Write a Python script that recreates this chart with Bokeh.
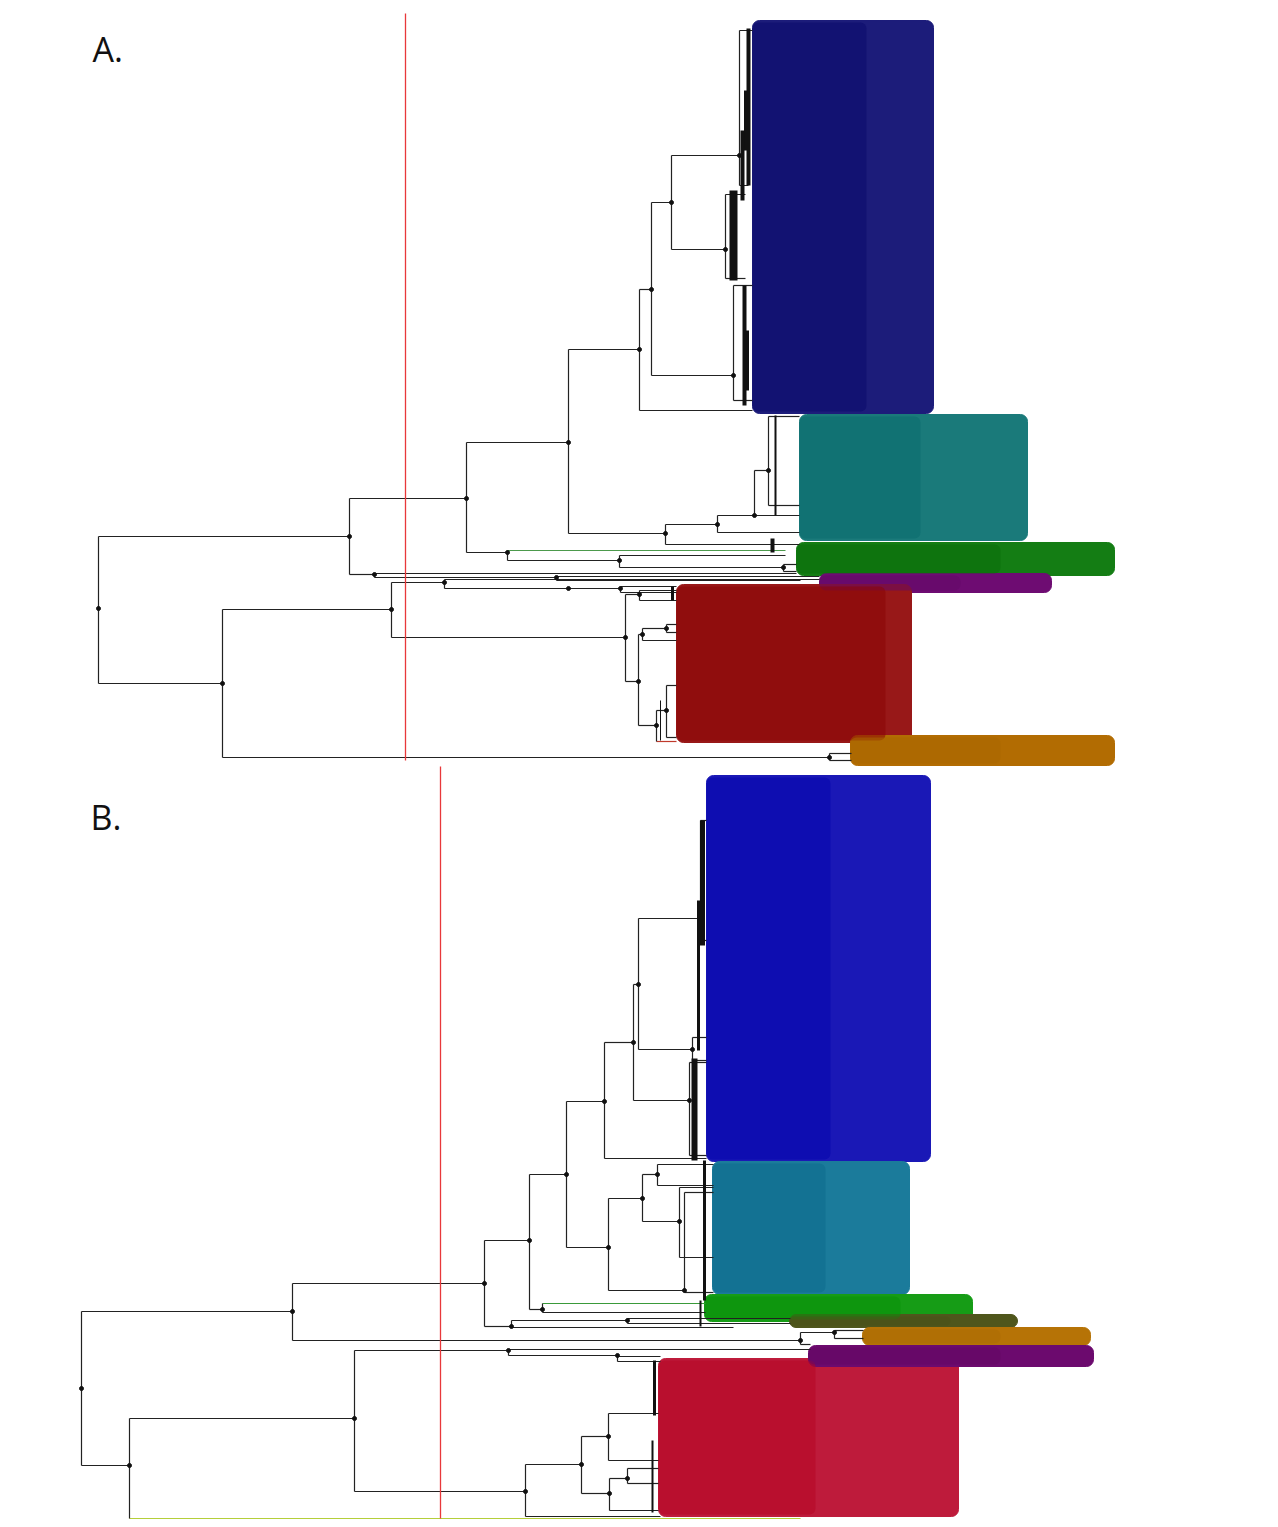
from bokeh.plotting import figure
from bokeh.models import Range1d
from bokeh.embed import file_html
from bokeh.resources import INLINE
from bokeh.core.properties import value

# ---------------- Panel A tree (x = branch depth, y = row position) ----------------
A_name = ["r", "a1", "a2", "a3", "a4", "a5", "a6", "a7", "a7t", "a7b", "a8", "a8t", "a8b",
          "a9", "a9t", "a9b", "a10", "a11", "a12", "a13", "a13a", "a13a1", "a13a2", "a13b",
          "a14", "a15", "a16", "a17", "a18", "a18a", "a18b", "a18b1", "a18b2", "a20", "a21",
          "a22", "a22a", "a22b", "b1", "b2", "b3", "b3a", "b3b", "b3c", "b3c1", "b3c2",
          "b4", "b5", "b5a", "b5b", "b6", "b7", "b7a", "b7a1", "b7a2", "b7b", "b8", "b8a",
          "b8a1", "b8a2", "b8b", "b9", "b9a", "b9b"]
A_parent = [None, "r", "a1", "a2", "a3", "a4", "a5", "a6", "a7", "a7", "a6", "a8", "a8",
            "a5", "a9", "a9", "a4", "a3", "a11", "a12", "a13", "a13a", "a13a", "a13",
            "a12", "a11", "a2", "a16", "a16", "a18", "a18", "a18b", "a18b", "a1", "a20",
            "a20", "a22", "a22", "r", "b1", "b2", "b3", "b3", "b3b", "b3c", "b3c",
            "b2", "b4", "b5", "b5", "b4", "b6", "b7", "b7a", "b7a", "b7", "b6", "b8",
            "b8a", "b8a", "b8", "b1", "b9", "b9"]
A_x = [98, 349, 466, 568, 639, 651, 671, 739, 752, 748, 725, 745, 745,
       733, 752, 752, 752, 665, 717, 754, 768, 799, 799, 799,
       799, 799, 507, 785, 619, 785, 783, 796, 796, 374, 796,
       556, 819, 800, 222, 391, 444, 819, 568, 620, 676, 676,
       625, 639, 676, 676, 638, 642, 666, 676, 676, 676, 656, 666,
       676, 676, 676, 829, 851, 851]
A_y = [608, 536, 498, 442, 349, 289, 202, 155, 30, 185, 249, 194, 278,
       375, 285, 400, 410, 533, 524, 515, 470, 416, 505, 515,
       532, 544, 552, 550, 560, 555, 567, 564, 571, 574, 573,
       577, 576, 580, 683, 609, 582, 579, 588, 588, 586, 592,
       637, 594, 590, 600, 681, 634, 628, 624, 632, 640, 725, 710,
       685, 737, 741, 757, 753, 760]
A_edge_color = {"b8b": "#c0392b", "a17": "#4c9a4c"}

# dense tip ladders (x, y from, y to, thickness)
A_lad_x = [748, 745, 742, 733, 744, 747, 775, 772, 672, 660]
A_lad_y0 = [28, 90, 130, 190, 285, 330, 415, 538, 586, 700]
A_lad_y1 = [185, 150, 200, 280, 405, 390, 515, 552, 600, 740]
A_lad_w = [4, 3, 4, 8, 4, 3, 2, 4, 3, 1]

# clades of panel A
A_cl_left = [752, 799, 796, 819, 676, 850]
A_cl_right = [933, 1027, 1114, 1051, 911, 1114]
A_cl_top = [20, 414, 542, 573, 584, 735]
A_cl_bottom = [413, 540, 575, 592, 742, 765]
A_cl_color = ["#1c1c7a", "#1a7a7a", "#147d14", "#6e0c72", "#981818", "#b26c02"]
A_cl_inner_right = [866, 920, 1000, 960, 885, 1000]
A_cl_inner_color = ["#0b0b6c", "#0b6b6d", "#0a6e0a", "#650a68", "#8a0606", "#a96702"]

# ---------------- Panel B tree ----------------
B_name = ["r", "a1", "a2", "a3", "a4", "a5", "a6", "a7", "a8", "a8a", "a8b", "a9", "a9a",
          "a9b", "a10", "a10a", "a10b", "a11", "a12", "a13", "a14", "a14a", "a14b", "a15",
          "a15a", "a15b", "a16", "a16a", "a16b", "a17", "a17a", "a17b", "a18", "a18a",
          "a18a1", "a18a2", "a18b", "a19", "a19a", "a19a1", "a19a2", "a19b", "b1", "b2",
          "b3", "b3a", "b3b", "b3b1", "b3b2", "b4", "b5", "b6", "b6a", "b6b", "b7", "b8",
          "b8a", "b8b", "b9", "b10", "b11"]
B_parent = [None, "r", "a1", "a2", "a3", "a4", "a5", "a6", "a7", "a8", "a8", "a7", "a9",
            "a9", "a6", "a10", "a10", "a5", "a4", "a12", "a13", "a14", "a14", "a13",
            "a15", "a15", "a12", "a16", "a16", "a3", "a17", "a17", "a2", "a18",
            "a18a", "a18a", "a18", "a1", "a19", "a19a", "a19a", "a19", "r", "b1",
            "b2", "b3", "b3", "b3b", "b3b", "b2", "b4", "b5", "b6", "b6", "b5", "b7",
            "b8", "b8", "b7", "b4", "b1"]
B_x = [81, 292, 484, 529, 566, 604, 633, 638, 700, 706, 706, 692, 706,
       706, 689, 706, 706, 706, 608, 642, 657, 713, 713, 679,
       713, 713, 684, 713, 713, 542, 705, 705, 511, 627,
       790, 790, 733, 800, 834, 863, 863, 810, 129, 354,
       508, 810, 617, 660, 660, 525, 581, 608, 658, 658, 609, 627,
       658, 658, 658, 660, 800]
B_y = [1388, 1311, 1283, 1240, 1174, 1101, 1042, 984, 918, 820, 940, 1049, 1037,
       1060, 1100, 1062, 1155, 1158, 1247, 1198, 1174, 1164, 1185, 1221,
       1187, 1257, 1290, 1192, 1292, 1309, 1303, 1312, 1326, 1320,
       1318, 1323, 1327, 1340, 1332, 1330, 1338, 1344, 1465, 1418,
       1350, 1349, 1355, 1356, 1361, 1491, 1464, 1436, 1413, 1460, 1493, 1478,
       1468, 1483, 1510, 1516, 1518]
B_edge_color = {"a17a": "#3a9a3a", "b11": "#b5cf3a"}

B_lad_x = [702, 698, 694, 704, 654, 652, 700]
B_lad_y0 = [820, 900, 1058, 1160, 1360, 1440, 1300]
B_lad_y1 = [945, 1050, 1160, 1300, 1415, 1512, 1326]
B_lad_w = [5, 3, 6, 3, 3, 2, 2]

B_cl_left = [706, 712, 704, 789, 862, 658, 808]
B_cl_right = [930, 909, 972, 1017, 1090, 958, 1093]
B_cl_top = [775, 1161, 1294, 1314, 1327, 1358, 1345]
B_cl_bottom = [1161, 1294, 1321, 1327, 1345, 1516, 1366]
B_cl_color = ["#1a18b6", "#1b7b9b", "#169c16", "#4f561c", "#b67306", "#be1b3b", "#6c0a6e"]
B_cl_inner_right = [830, 825, 900, 950, 1000, 815, 1000]
B_cl_inner_color = ["#0505ad", "#0d6c8c", "#0a920a", "#4a521a", "#ac6c06", "#b40524", "#640864"]

# cut-off lines and panel labels
cut_x = [405, 440]
cut_y0 = [13, 766]
cut_y1 = [760, 1518]
label_text = ["A.", "B."]
label_x = [92, 90]
label_y = [48, 816]

W, H = 1270, 1524
p = figure(width=W, height=H, output_backend="svg", toolbar_location=None,
           x_range=Range1d(0, W), y_range=Range1d(H, 0),
           min_border=0, background_fill_color="white", border_fill_color="white")
p.axis.visible = False
p.grid.visible = False
p.outline_line_color = None


def draw_clades(left, right, top, bottom, color, inner_right, inner_color):
    p.quad(left=left, right=right, top=top, bottom=bottom, fill_color=color,
           line_color=color, border_radius=7)
    p.quad(left=left, right=inner_right, top=[t + 2 for t in top],
           bottom=[b - 2 for b in bottom], fill_color=inner_color, line_color=None,
           fill_alpha=0.55, border_radius=6)


def draw_tree(name, parent, x, y, edge_color):
    idx = {n: i for i, n in enumerate(name)}
    hx0, hx1, hy, hc = [], [], [], []
    for i, n in enumerate(name):
        par = parent[i]
        if par is None:
            continue
        j = idx[par]
        hx0.append(x[j]); hx1.append(x[i]); hy.append(y[i])
        hc.append(edge_color.get(n, "#222222"))
    vx, vy0, vy1, dx, dy = [], [], [], [], []
    for j, n in enumerate(name):
        kids = [y[i] for i in range(len(name)) if parent[i] == n]
        if not kids:
            continue
        ys = kids + [y[j]]
        vx.append(x[j]); vy0.append(min(ys)); vy1.append(max(ys))
        dx.append(x[j]); dy.append(y[j])
    p.segment(x0=hx0, x1=hx1, y0=hy, y1=hy, line_color=hc, line_width=1.2)
    p.segment(x0=vx, x1=vx, y0=vy0, y1=vy1, line_color="#222222", line_width=1.2)
    p.scatter(dx, dy, size=4, color="#111111")


def draw_ladders(lx, ly0, ly1, lw):
    p.segment(x0=lx, x1=lx, y0=ly0, y1=ly1, line_color="#111111", line_width=lw)


draw_clades(A_cl_left, A_cl_right, A_cl_top, A_cl_bottom, A_cl_color,
            A_cl_inner_right, A_cl_inner_color)
draw_clades(B_cl_left, B_cl_right, B_cl_top, B_cl_bottom, B_cl_color,
            B_cl_inner_right, B_cl_inner_color)
draw_tree(A_name, A_parent, A_x, A_y, A_edge_color)
draw_tree(B_name, B_parent, B_x, B_y, B_edge_color)
draw_ladders(A_lad_x, A_lad_y0, A_lad_y1, A_lad_w)
draw_ladders(B_lad_x, B_lad_y0, B_lad_y1, B_lad_w)

p.segment(x0=cut_x, x1=cut_x, y0=cut_y0, y1=cut_y1, line_color="#e8383a", line_width=1.3)
p.text(x=label_x, y=label_y, text=label_text, text_font=value("Open Sans"),
       text_font_size="34px", text_baseline="middle", text_align="left", text_color="#111111")

open("out.html", "w").write(file_html(p, INLINE))
